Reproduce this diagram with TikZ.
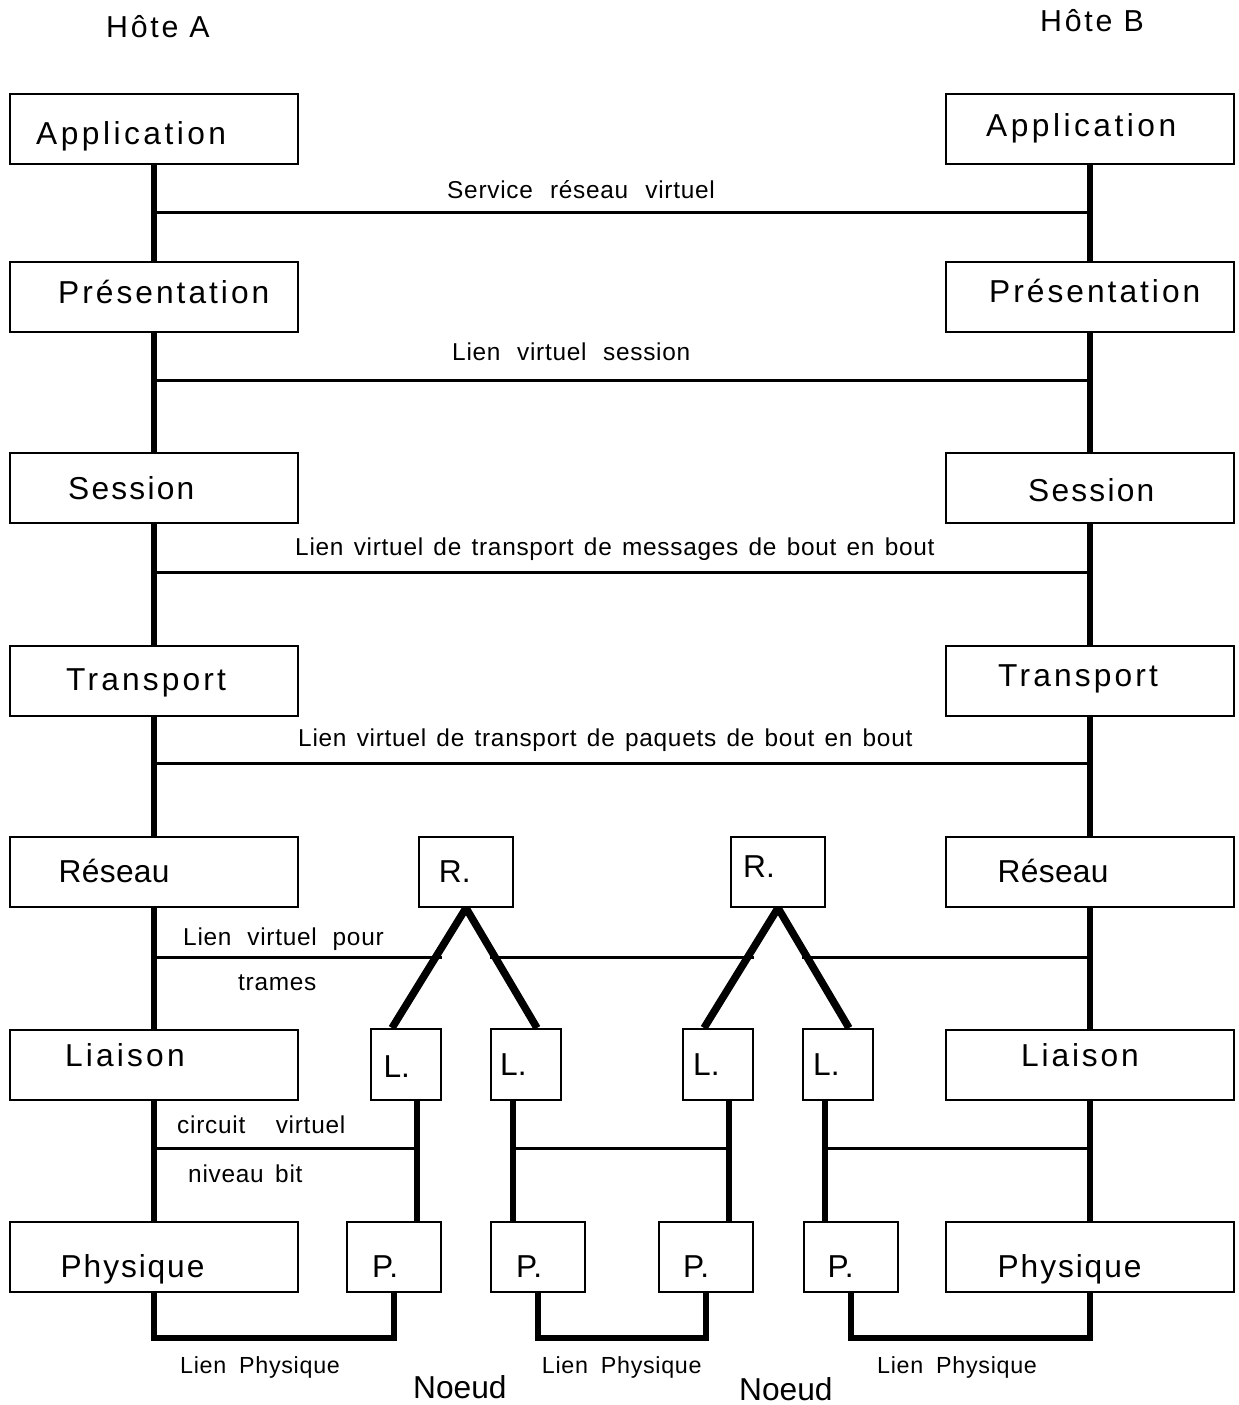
\documentclass[tikz,border=0pt]{standalone}
\usepackage{fontspec}
\setmainfont{Liberation Sans}
\usetikzlibrary{calc}

\begin{document}
\begin{tikzpicture}[x=1pt, y=-1pt,
	layer/.style={draw, line width=2pt, minimum width=288pt, minimum height=70pt, inner sep=0pt},
	relay/.style={draw, line width=2pt, minimum width=94pt, minimum height=70pt, inner sep=0pt},
	lbox/.style={draw, line width=2pt, minimum width=70pt, minimum height=71pt, inner sep=0pt},
	boxtxt/.style={anchor=base west, inner sep=0pt, font={\fontsize{31.7}{38}\selectfont\addfontfeature{LetterSpace=#1}}},
	boxtxt/.default=0,
	hosttxt/.style={anchor=base west, inner sep=0pt, font={\fontsize{30.3}{36}\selectfont\addfontfeature{LetterSpace=9}}},
	linktxt/.style={anchor=base west, inner sep=0pt, font={\fontsize{24.4}{29}\selectfont\addfontfeature{LetterSpace=3}\spaceskip=#1em\relax}},
	linktxt/.default=0.28,
	phystxt/.style={anchor=base west, inner sep=0pt, font={\fontsize{23.3}{28}\selectfont\addfontfeature{LetterSpace=3}\spaceskip=0.55em\relax}},
	stack/.style={line width=6pt},
	virt/.style={line width=3pt},
	diag/.style={line width=7.5pt},
	wire/.style={line width=6pt}]
	\useasboundingbox (0,0) rectangle (1239,1405);
	% heights of the virtual links
	\coordinate (lv1) at (0,212);
	\coordinate (lv2) at (0,380);
	\coordinate (lv3) at (0,572.5);
	\coordinate (lv4) at (0,763.5);
	\coordinate (lv5) at (0,957);
	\coordinate (lv6) at (0,1148);
	\coordinate (bus) at (0,1338);
	% the two hosts
	\foreach \n/\y in {app/128.5, pre/296.5, ses/488.3, tra/680.5, res/872, lia/1065, phy/1257} {
		\node[layer] (\n-a) at (154,\y) {};
		\node[layer] (\n-b) at (1089.5,\y) {};
	}
	\foreach \u/\l in {app/pre, pre/ses, ses/tra, tra/res, res/lia, lia/phy} {
		\draw[stack] (\u-a.south) -- (\l-a.north);
		\draw[stack] (\u-b.south) -- (\l-b.north);
	}
	\node[hosttxt] (host-a) at (106,38) {Hôte A};
	\node[hosttxt] (host-b) at (1040,32) {Hôte B};
	\node[boxtxt=11] (t-app-a) at (36,144) {Application};
	\node[boxtxt=11] (t-app-b) at (986,136) {Application};
	\node[boxtxt=9.5] (t-pre-a) at (58,303) {Présentation};
	\node[boxtxt=9.5] (t-pre-b) at (989,302) {Présentation};
	\node[boxtxt=7] (t-ses-a) at (68,499) {Session};
	\node[boxtxt=7] (t-ses-b) at (1028,501.7) {Session};
	\node[boxtxt=10] (t-tra-a) at (66,690) {Transport};
	\node[boxtxt=10] (t-tra-b) at (998,686) {Transport};
	\node[boxtxt=1] (t-res-a) at (58.5,882.7) {Réseau};
	\node[boxtxt=1] (t-res-b) at (997.5,882.7) {Réseau};
	\node[boxtxt=10] (t-lia-a) at (65,1066.7) {Liaison};
	\node[boxtxt=9] (t-lia-b) at (1021,1066.7) {Liaison};
	\node[boxtxt=6] (t-phy-a) at (60.5,1277.7) {Physique};
	\node[boxtxt=6] (t-phy-b) at (997.5,1277.7) {Physique};
	% end to end links
	\foreach \u/\i in {app/1, pre/2, ses/3, tra/4}
		\draw[virt] (\u-a.south |- lv\i) -- (\u-b.south |- lv\i);
	\node[linktxt=0.7] (t-lv1) at (447,198.3) {Service réseau virtuel};
	\node[linktxt=0.68] (t-lv2) at (452,360) {Lien virtuel session};
	\node[linktxt=0.42] (t-lv3) at (295,555.5) {Lien virtuel de transport de messages de bout en bout};
	\node[linktxt=0.42] (t-lv4) at (298,746) {Lien virtuel de transport de paquets de bout en bout};
	% the two intermediate nodes
	\node[relay] (r1) at (466,872) {};
	\node[relay] (r2) at (778,872) {};
	\node[lbox] (l1) at (406,1064.5) {};
	\node[lbox] (l2) at (526,1064.5) {};
	\node[lbox] (l3) at (717.5,1064.5) {};
	\node[lbox] (l4) at (838,1064.5) {};
	\node[relay] (p1) at (394,1257) {};
	\node[relay] (p2) at (538,1257) {};
	\node[relay] (p3) at (706,1257) {};
	\node[relay] (p4) at (850.5,1257) {};
	\node[boxtxt] (t-r1) at (438.7,882.7) {R.};
	\node[boxtxt] (t-r2) at (743,877) {R.};
	\node[boxtxt] (t-l1) at (383.4,1077.7) {L.};
	\node[boxtxt] (t-l2) at (500,1075) {L.};
	\node[boxtxt] (t-l3) at (693,1075) {L.};
	\node[boxtxt] (t-l4) at (813,1075) {L.};
	\node[boxtxt] (t-p1) at (372,1277.7) {P.};
	\node[boxtxt] (t-p2) at (516,1277.7) {P.};
	\node[boxtxt] (t-p3) at (683,1277.7) {P.};
	\node[boxtxt] (t-p4) at (827.5,1277.7) {P.};
	\draw[diag] (r1.south) -- ($(l1.north)+(-14,0)$);
	\draw[diag] (r1.south) -- ($(l2.north)+(11,0)$);
	\draw[diag] (r2.south) -- ($(l3.north)+(-13.5,0)$);
	\draw[diag] (r2.south) -- ($(l4.north)+(11,0)$);
	\draw[stack] ($(l1.south)+(11,0)$) coordinate (b1) -- (b1 |- p1.north);
	\draw[stack] ($(l2.south)+(-13,0)$) coordinate (b2) -- (b2 |- p2.north);
	\draw[stack] ($(l3.south)+(11.5,0)$) coordinate (b3) -- (b3 |- p3.north);
	\draw[stack] ($(l4.south)+(-13,0)$) coordinate (b4) -- (b4 |- p4.north);
	% frames and bits
	\draw[virt] (res-a.south |- lv5) -- (l1.north east |- lv5);
	\draw[virt] (l2.north west |- lv5) -- (l3.north east |- lv5);
	\draw[virt] (l4.north west |- lv5) -- (res-b.south |- lv5);
	\node[linktxt=0.65] (t-lv5) at (183,945) {Lien virtuel pour};
	\node[linktxt] (t-lv5b) at (238,990) {trames};
	\draw[virt] (lia-a.south |- lv6) -- (b1 |- lv6);
	\draw[virt] (b2 |- lv6) -- (b3 |- lv6);
	\draw[virt] (b4 |- lv6) -- (lia-b.south |- lv6);
	\node[linktxt=1.25] (t-lv6) at (177,1133) {circuit virtuel};
	\node[linktxt=0.47] (t-lv6b) at (188,1182) {niveau bit};
	% physical links
	\draw[wire] (phy-a.south) -- (phy-a.south |- bus) -| (p1.south);
	\draw[wire] (p2.south) -- (p2.south |- bus) -| (p3.south);
	\draw[wire] (p4.south) -- (p4.south |- bus) -| (phy-b.south);
	\node[phystxt] (t-ph1) at (180,1373) {Lien Physique};
	\node[phystxt] (t-ph2) at (541.7,1373) {Lien Physique};
	\node[phystxt] (t-ph3) at (877,1373) {Lien Physique};
	\node[boxtxt] (n1) at (413,1398) {Noeud};
	\node[boxtxt] (n2) at (739,1400) {Noeud};
\end{tikzpicture}
\end{document}
